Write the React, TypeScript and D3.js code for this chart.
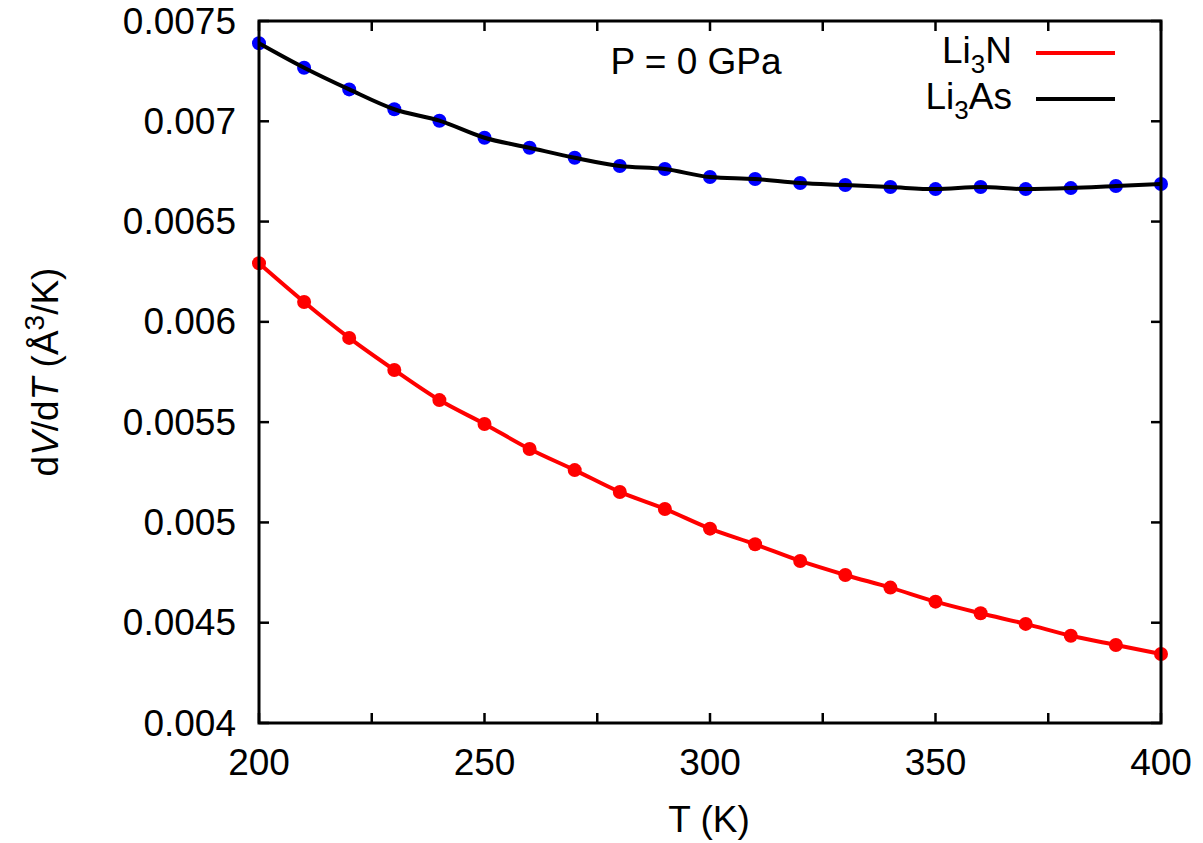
import React, { useEffect, useRef } from "react";
import * as d3 from "d3";

const temps = [200, 210, 220, 230, 240, 250, 260, 270, 280, 290, 300, 310, 320, 330, 340, 350, 360, 370, 380, 390, 400];

const li3n = [
  0.006292, 0.006099, 0.00592, 0.00576, 0.00561, 0.005491, 0.005366, 0.005261, 0.005152, 0.005067, 0.004969,
  0.004891, 0.004808, 0.004738, 0.004675, 0.004605, 0.004547, 0.004494, 0.004435, 0.004389, 0.004344,
];

const li3as = [
  0.007389, 0.007267, 0.007159, 0.00706, 0.007003, 0.006918, 0.006868, 0.006818, 0.006777, 0.006762, 0.006722,
  0.006712, 0.006692, 0.006682, 0.006672, 0.006662, 0.006672, 0.006662, 0.006667, 0.006677, 0.006687,
];

const xTicks = [200, 225, 250, 275, 300, 325, 350, 375, 400];
const xLabels = [200, 250, 300, 350, 400];
const yTicks = [0.004, 0.0045, 0.005, 0.0055, 0.006, 0.0065, 0.007, 0.0075];

const W = 1203;
const H = 843;
const margin = { top: 21, right: 42, bottom: 120, left: 259 };
const FONT = "'Liberation Sans', Arial, Helvetica, sans-serif";

const App = () => {
  const ref = useRef<SVGSVGElement>(null);

  useEffect(() => {
    const svg = d3.select(ref.current);
    svg.selectAll("*").remove();

    const x = d3.scaleLinear().domain([200, 400]).range([margin.left, W - margin.right]);
    const y = d3.scaleLinear().domain([0.004, 0.0075]).range([H - margin.bottom, margin.top]);
    const x0 = x.range()[0], x1 = x.range()[1];
    const y0 = y.range()[0], y1 = y.range()[1];
    const tick = 10;

    // ticks, mirrored on all four sides
    const g = svg.append("g").attr("stroke", "black").attr("stroke-width", 2.5);
    xTicks.forEach(t => {
      g.append("line").attr("x1", x(t)).attr("x2", x(t)).attr("y1", y0).attr("y2", y0 - tick);
      g.append("line").attr("x1", x(t)).attr("x2", x(t)).attr("y1", y1).attr("y2", y1 + tick);
    });
    yTicks.forEach(t => {
      g.append("line").attr("x1", x0).attr("x2", x0 + tick).attr("y1", y(t)).attr("y2", y(t));
      g.append("line").attr("x1", x1).attr("x2", x1 - tick).attr("y1", y(t)).attr("y2", y(t));
    });

    // tick labels
    svg.append("g")
      .selectAll("text")
      .data(xLabels)
      .enter()
      .append("text")
      .attr("x", d => x(d))
      .attr("y", y0 + 52)
      .attr("text-anchor", "middle")
      .attr("font-family", FONT)
      .attr("font-size", 37)
      .text(d => String(d));

    svg.append("g")
      .selectAll("text")
      .data(yTicks)
      .enter()
      .append("text")
      .attr("x", x0 - 23)
      .attr("y", d => y(d) + 12.5)
      .attr("text-anchor", "end")
      .attr("font-family", FONT)
      .attr("font-size", 37)
      .text(d => String(+d.toFixed(4)));

    const line = d3.line<number>()
      .x((d, i) => x(temps[i]))
      .y(d => y(d))
      .curve(d3.curveMonotoneX);

    // Li3N
    svg.append("path")
      .attr("d", line(li3n))
      .attr("fill", "none")
      .attr("stroke", "#ff0000")
      .attr("stroke-width", 4);
    svg.append("g")
      .selectAll("circle")
      .data(li3n)
      .enter()
      .append("circle")
      .attr("cx", (d, i) => x(temps[i]))
      .attr("cy", d => y(d))
      .attr("r", 7)
      .attr("fill", "#ff0000");

    // Li3As
    svg.append("g")
      .selectAll("circle")
      .data(li3as)
      .enter()
      .append("circle")
      .attr("cx", (d, i) => x(temps[i]))
      .attr("cy", d => y(d))
      .attr("r", 7)
      .attr("fill", "#0000ff");
    svg.append("path")
      .attr("d", line(li3as))
      .attr("fill", "none")
      .attr("stroke", "black")
      .attr("stroke-width", 4);

    // frame
    svg.append("rect")
      .attr("x", x0)
      .attr("y", y1)
      .attr("width", x1 - x0)
      .attr("height", y0 - y1)
      .attr("fill", "none")
      .attr("stroke", "black")
      .attr("stroke-width", 3);

    // legend
    const legend = [
      { name: "Li", sub: "3", rest: "N", color: "#ff0000", ly: 53 },
      { name: "Li", sub: "3", rest: "As", color: "black", ly: 99 },
    ];
    legend.forEach(l => {
      const t = svg.append("text")
        .attr("x", 1012)
        .attr("y", l.ly + 10)
        .attr("text-anchor", "end")
        .attr("font-family", FONT)
        .attr("font-size", 37);
      t.append("tspan").text(l.name);
      t.append("tspan").attr("font-size", 26).attr("dy", 10).text(l.sub);
      t.append("tspan").attr("dy", -10).text(l.rest);
      svg.append("line")
        .attr("x1", 1036)
        .attr("x2", 1115)
        .attr("y1", l.ly)
        .attr("y2", l.ly)
        .attr("stroke", l.color)
        .attr("stroke-width", 4);
    });

    svg.append("text")
      .attr("x", 696)
      .attr("y", 74)
      .attr("text-anchor", "middle")
      .attr("font-family", FONT)
      .attr("font-size", 37)
      .text("P = 0 GPa");

    // axis titles
    svg.append("text")
      .attr("x", 709)
      .attr("y", 832)
      .attr("text-anchor", "middle")
      .attr("font-family", FONT)
      .attr("font-size", 37)
      .text("T (K)");

    const yl = svg.append("text")
      .attr("transform", `translate(58,372) rotate(-90)`)
      .attr("text-anchor", "middle")
      .attr("font-family", FONT)
      .attr("font-size", 37);
    yl.append("tspan").text("d");
    yl.append("tspan").attr("font-style", "italic").text("V");
    yl.append("tspan").text("/d");
    yl.append("tspan").attr("font-style", "italic").text("T");
    yl.append("tspan").text(" (Å");
    yl.append("tspan").attr("font-size", 28).attr("dy", -14).text("3");
    yl.append("tspan").attr("dy", 14).text("/K)");
  }, []);

  return (
    <svg
      ref={ref}
      width={W}
      height={H}
      style={{ position: "absolute", left: 0, top: 0, background: "white" }}
    />
  );
};

export default App;
